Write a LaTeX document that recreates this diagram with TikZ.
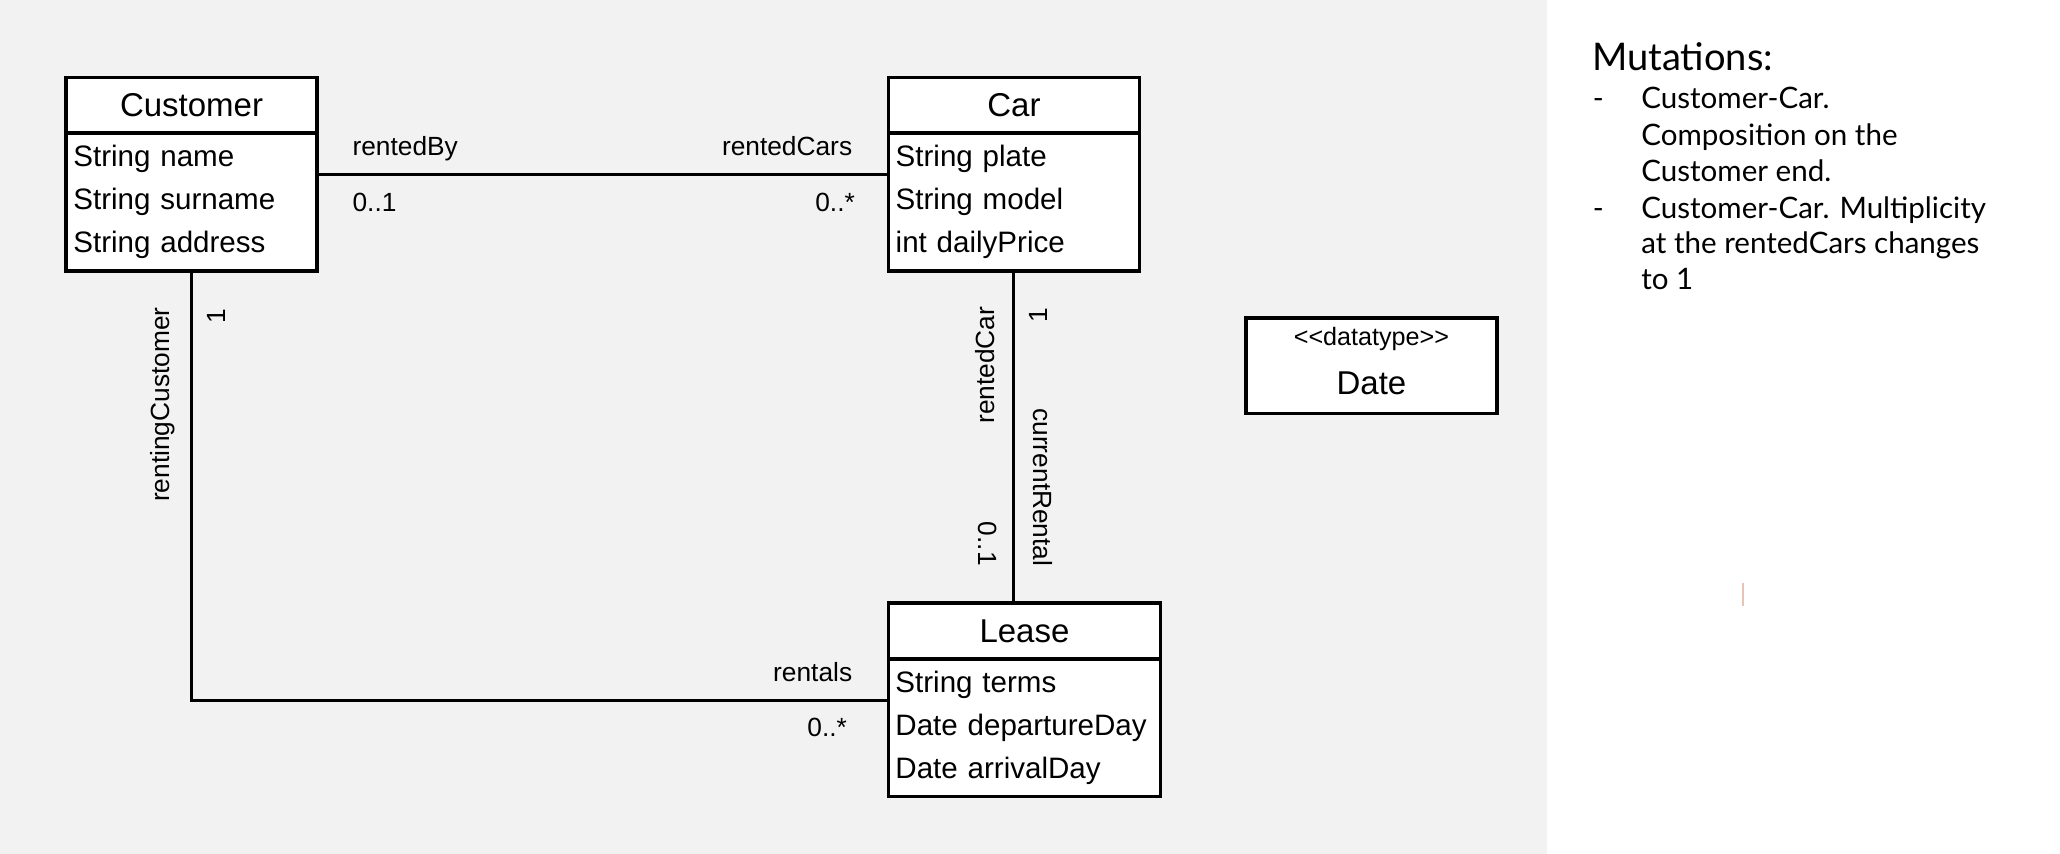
\documentclass[tikz,border=0pt]{standalone}
\usepackage{fontspec}
\setmainfont{Liberation Sans}
\newfontfamily\notefont{Lato}
\usepackage{tikz}
\usetikzlibrary{positioning}

\definecolor{bggray}{HTML}{F2F2F2}
\definecolor{caretpink}{HTML}{E8C4B8}

\tikzset{
  cls/.style={draw, line width=1.4pt, fill=white, inner sep=0pt, outer sep=0pt},
  clstitle/.style={cls, minimum width=3.82cm, minimum height=0.85cm, font=\fontsize{14.3}{16}\selectfont},
  clsbody/.style={cls, minimum height=2.1cm, inner xsep=0.11cm, text width=3.6cm, align=left, font=\fontsize{12.8}{18.5}\selectfont},
  assoc/.style={line width=1.3pt},
  role/.style={inner sep=0pt, font=\fontsize{11.4}{13}\selectfont},
  noteline/.style={inner sep=0pt, anchor=base west, font=\notefont\fontsize{12.8}{15}\selectfont},
}

\begin{document}
\begin{tikzpicture}[x=0.02cm, y=-0.02cm]
    \fill[white] (0,0) rectangle (1568,650);
    \fill[bggray] (0,0) rectangle (1177.3,650);
    \useasboundingbox (0,0) rectangle (1568,650);

    \node[clstitle] (customer) at (145.8,80.05) {Customer};
    \node[clsbody, below=0pt of customer] (customerattr) {String name\\String surname\\String address};
    \node[clstitle] (car) at (771.75,80.05) {Car};
    \node[clsbody, below=0pt of car] (carattr) {String plate\\String model\\int dailyPrice};
    \node[clstitle, minimum width=4.15cm] (lease) at (779.8,480.3) {Lease};
    \node[clsbody, text width=3.93cm, below=0pt of lease] (leaseattr) {String terms\\Date departureDay\\Date arrivalDay};

    \node[cls, minimum width=3.82cm, minimum height=1.456cm] (date) at (1043.9,278.4) {};
    \node[inner sep=0pt, font=\fontsize{10.9}{12}\selectfont] (datestereo) at (1043.9,258) {<{}<datatype>{}>};
    \node[inner sep=0pt, font=\fontsize{14.3}{16}\selectfont] (datename) at (1043.9,291.5) {Date};

    \draw[assoc] ([yshift=0.42cm]customerattr.east) -- ([yshift=0.42cm]carattr.west);
    \draw[assoc] (customerattr.south) |- ([yshift=0.42cm]leaseattr.west);
    \draw[assoc] (carattr.south) -- (carattr.south |- lease.north);

    \node[role, anchor=base west] (rentedby) at (268,118) {rentedBy};
    \node[role, anchor=base west] (rentedbymult) at (268,161) {0..1};
    \node[role, anchor=base east] (rentedcars) at (649,118) {rentedCars};
    \node[role, anchor=base east] (rentedcarsmult) at (651,161) {0..*};
    \node[role, anchor=base east] (rentals) at (649,518.8) {rentals};
    \node[role, anchor=base east] (rentalsmult) at (645,560.6) {0..*};
    \node[role, rotate=90] (customermult) at (165,240.5) {1};
    \node[role, rotate=90] (rentingcustomer) at (123.6,308) {rentingCustomer};
    \node[role, rotate=90] (carmult) at (790.5,240) {1};
    \node[role, rotate=90] (rentedcar) at (749.5,278) {rentedCar};
    \node[role, rotate=-90] (currentrental) at (793.7,371) {currentRental};
    \node[role, rotate=-90] (rentalmult) at (751.7,414) {0..1};

    \node[noteline, font=\notefont\fontsize{16.5}{18}\selectfont] (mutations) at (1211.5,53.8) {Mutations:};
    \node[noteline] (dash1) at (1212,82.4) {-};
    \node[noteline] (dash2) at (1212,166.1) {-};
    \foreach \txt/\yy [count=\i] in {Customer-Car./82.4, Composition on the/110.4, Customer end./138.3,
        Customer-Car. Multiplicity/166.1, at the rentedCars changes/192.7, to 1/220}
        \node[noteline] (note\i) at (1249,\yy) {\txt};

    \draw[caretpink, line width=0.9pt] (1327,444) -- (1327,461);
\end{tikzpicture}
\end{document}
